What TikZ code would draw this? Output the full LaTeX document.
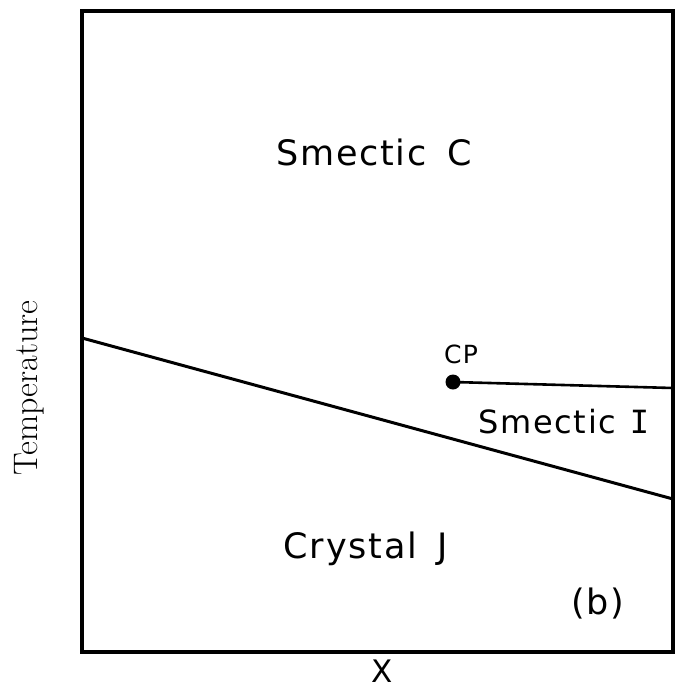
\documentclass[tikz,border=0pt]{standalone}
\usepackage{fontspec}
\usepackage{tikz}
\usetikzlibrary{positioning}
\newfontfamily\phasefont[LetterSpace=5]{DejaVu Sans}
\newfontfamily\romanI{DejaVu Sans Mono}

\begin{document}
\begin{tikzpicture}[x=1pt,y=-1pt,
    phase/.style={inner sep=0pt, anchor=base, font=\phasefont\fontsize{35}{40}\selectfont},
    small/.style={inner sep=0pt, anchor=base, font=\phasefont\fontsize{25}{30}\selectfont}]
  \useasboundingbox (0,0) rectangle (676,689);
  % frame of the diagram
  \draw[line width=3.4pt] (82,11) rectangle (673,652);
  \coordinate (left) at (82,338);
  \coordinate (right) at (673,499);
  \draw[line width=3pt] (left) -- (right);
  % critical point
  \node[circle, fill, inner sep=0pt, minimum size=15pt] (cp) at (453,382) {};
  \coordinate (cpend) at (673,388);
  \draw[line width=2.6pt] (cp.center) -- (cpend);
  \node[small] (cplabel) at (461,363) {CP};
  % phases
  \node[phase] (smc) at (374,165) {Smectic\hspace{8pt} C};
  \node[phase, font=\phasefont\fontsize{32}{38}\selectfont] (smi) at (564,433) {Smectic\hspace{2pt} {\romanI I}};
  \node[phase] (crj) at (366,558) {Crystal\hspace{8pt} J};
  \node[phase] (tag) at (598,614) {(b)};
  % axes
  \node[phase, font=\phasefont\fontsize{31}{36}\selectfont] (xlabel) at (382,682) {X};
  \node[inner sep=0pt, anchor=base, rotate=90, font=\fontsize{34}{40}\selectfont] (ylabel) at (37,388) {Temperature};
\end{tikzpicture}
\end{document}
